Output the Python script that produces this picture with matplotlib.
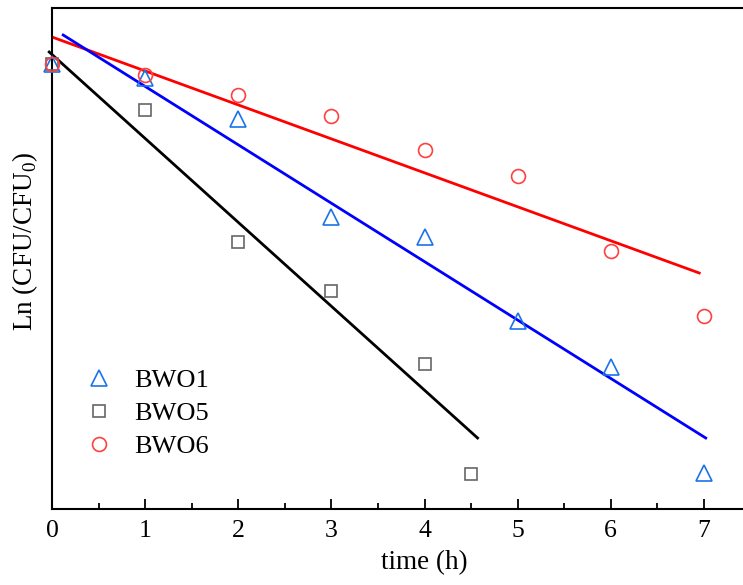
import matplotlib
matplotlib.use("Agg")
import matplotlib.pyplot as plt
import numpy as np
from matplotlib.ticker import MultipleLocator

plt.rcParams['font.family'] = ['Liberation Serif', 'DejaVu Serif']
plt.rcParams['mathtext.fontset'] = 'custom'
plt.rcParams['mathtext.rm'] = 'Liberation Serif'

# data (y in arbitrary Ln units)
t1 = [0, 1, 2, 3, 4, 5, 6, 7]
bwo1 = [-0.06, -0.20, -0.61, -1.59, -1.79, -2.63, -3.09, -4.15]

t5 = [0, 1, 2, 3, 4, 4.5]
bwo5 = [-0.06, -0.52, -1.84, -2.33, -3.06, -4.16]

t6 = [0, 1, 2, 3, 4, 5, 6, 7]
bwo6 = [-0.06, -0.17, -0.37, -0.58, -0.92, -1.18, -1.93, -2.58]

# fitted lines (start / end)
fit1_x = [0.12, 7.02]
fit1_y = [0.23, -3.80]
fit5_x = [-0.03, 4.57]
fit5_y = [0.06, -3.80]
fit6_x = [0.0, 6.95]
fit6_y = [0.21, -2.15]

xticks = [0, 1, 2, 3, 4, 5, 6, 7]

fig = plt.figure(figsize=(7.43, 5.85), dpi=100)
ax = fig.add_axes([52/743, 76/585, 745/743, 501/585])

ax.plot(fit6_x, fit6_y, color='#ff0000', lw=2, zorder=2)
ax.plot(fit1_x, fit1_y, color='#0000ff', lw=2, zorder=2)
ax.plot(fit5_x, fit5_y, color='black', lw=2, zorder=2, clip_on=False)

ax.plot(t1, bwo1, ls='none', marker='^', ms=11, mfc='none', mec='#1a73e8', mew=1.2,
        label='BWO1', clip_on=False, zorder=3)
ax.plot(t5, bwo5, ls='none', marker='s', ms=8.5, mfc='none', mec='#666666', mew=1.2,
        label='BWO5', clip_on=False, zorder=3)
ax.plot(t6, bwo6, ls='none', marker='o', ms=10, mfc='none', mec='#ff4040', mew=1.2,
        label='BWO6', clip_on=False, zorder=3)

ax.set_xlim(0, 8)
ax.set_ylim(-4.51, 0.5)
ax.set_xticks(xticks)
ax.xaxis.set_minor_locator(MultipleLocator(0.5))
ax.tick_params(axis='x', which='major', direction='in', length=7, width=1.3, labelsize=18.5, pad=8)
ax.tick_params(axis='x', which='minor', direction='in', length=4, width=1.3)
ax.set_yticks([])
for s in ax.spines.values():
    s.set_linewidth(1.5)

ax.set_xlabel('time (h)', fontsize=19.5, labelpad=6)
ax.set_ylabel('Ln (CFU/CFU$_0$)', fontsize=19.5)
ax.yaxis.set_label_coords(-0.016, 0.535)

ax.legend(loc='upper left', bbox_to_anchor=(0.013, 0.328), frameon=False, fontsize=19,
          handletextpad=0.85, labelspacing=0.36, handlelength=1.0)

fig.savefig('out.png', dpi=100)
